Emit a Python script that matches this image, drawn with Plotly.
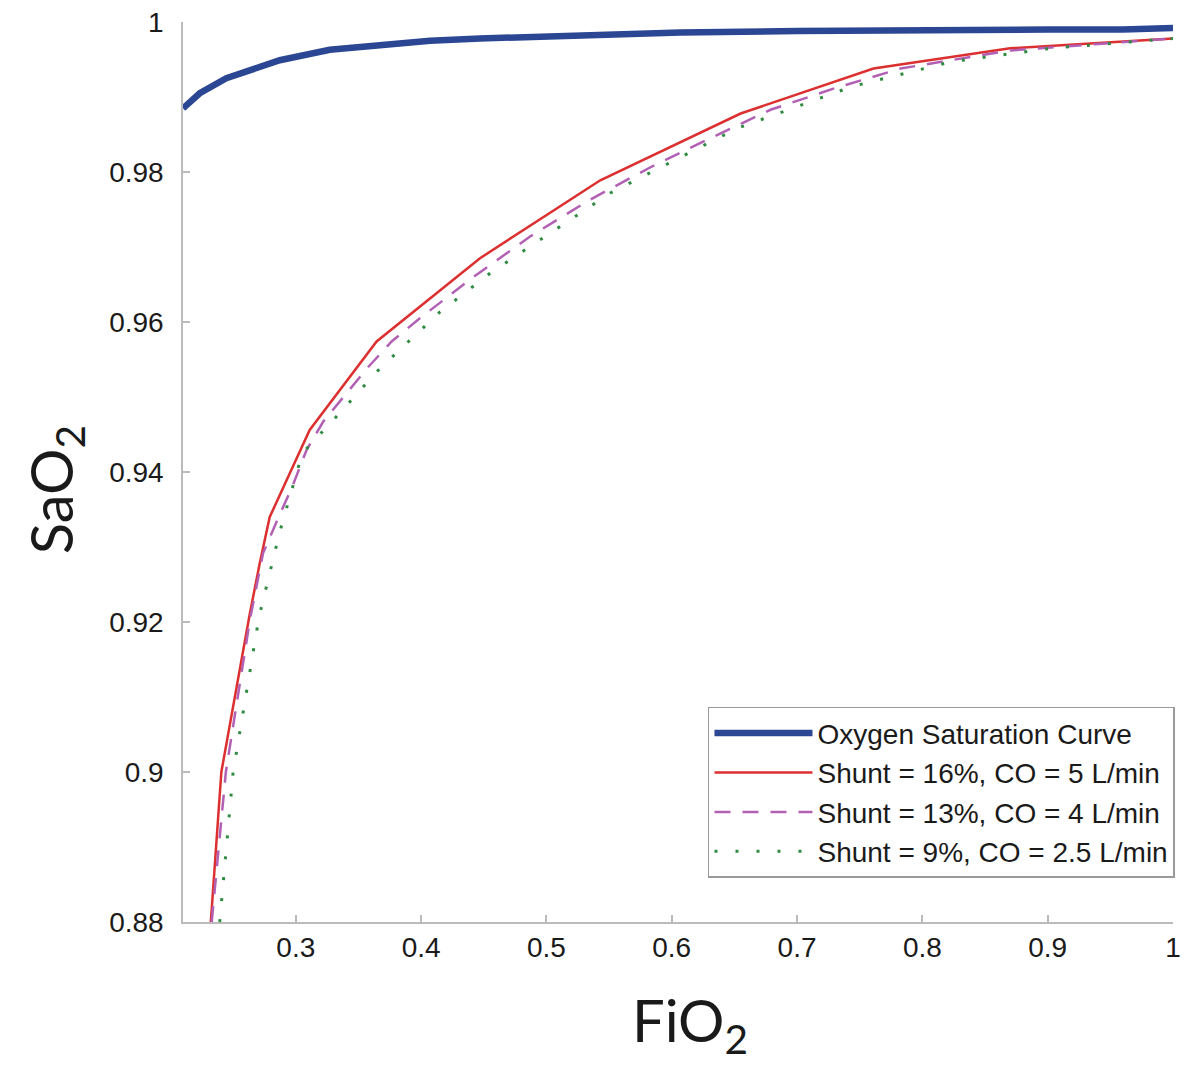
import plotly.graph_objects as go

# ---- data ----
blue_x = [0.21, 0.2234, 0.2446, 0.2872, 0.3271, 0.3671, 0.4071, 0.447, 0.5003, 0.5535, 0.6068, 0.70, 0.80, 0.90, 0.96, 1.0]
blue_y = [0.9885, 0.9905, 0.9925, 0.9949, 0.9963, 0.9969, 0.9975, 0.9978, 0.9981, 0.9984, 0.9986, 0.9988, 0.9990, 0.9990, 0.9990, 0.9992]

red_x = [0.2322, 0.2406, 0.2632, 0.2712, 0.2792, 0.3111, 0.3645, 0.447, 0.543, 0.655, 0.761, 0.870, 1.0]
red_y = [0.880, 0.900, 0.921, 0.9278, 0.9340, 0.9456, 0.9574, 0.9685, 0.9789, 0.9878, 0.9938, 0.9965, 0.9978]

mag_x = [0.2329, 0.2442, 0.2634, 0.2739, 0.2858, 0.2978, 0.3085, 0.3218, 0.3405, 0.3578, 0.3765, 0.399,
         0.4417, 0.487, 0.5336, 0.5815, 0.6308, 0.6788, 0.7307, 0.7827, 0.87, 1.0]
mag_y = [0.880, 0.900, 0.9203, 0.9292, 0.9338, 0.9383, 0.9429, 0.9467, 0.9505, 0.9540, 0.9574, 0.9605,
         0.9660, 0.9714, 0.9762, 0.9805, 0.9845, 0.9883, 0.9912, 0.9938, 0.9962, 0.9978]

grn_x = [0.2393, 0.2500, 0.2707, 0.2872, 0.3052, 0.3325, 0.3671, 0.4148, 0.455, 0.551, 0.652, 0.744, 0.823, 0.903, 1.0]
grn_y = [0.880, 0.900, 0.9207, 0.9320, 0.9425, 0.9474, 0.9538, 0.9613, 0.9665, 0.9772, 0.9858, 0.9914, 0.9947, 0.9965, 0.9978]

names = ["Oxygen Saturation Curve",
         "Shunt = 16%, CO = 5 L/min",
         "Shunt = 13%, CO = 4 L/min",
         "Shunt = 9%, CO = 2.5 L/min"]

x_ticks = [0.3, 0.4, 0.5, 0.6, 0.7, 0.8, 0.9, 1.0]
x_ticktext = ["0.3", "0.4", "0.5", "0.6", "0.7", "0.8", "0.9", "1"]
y_ticks = [0.88, 0.90, 0.92, 0.94, 0.96, 0.98, 1.0]
y_ticktext = ["0.88", "0.9", "0.92", "0.94", "0.96", "0.98", "1"]

x_title = "FiO<sub>2</sub>"
y_title = "SaO<sub>2</sub>"

fig = go.Figure()
fig.add_trace(go.Scatter(x=blue_x, y=blue_y, mode="lines", name=names[0],
                         line=dict(color="#2B4693", width=6.5)))
fig.add_trace(go.Scatter(x=red_x, y=red_y, mode="lines", name=names[1],
                         line=dict(color="#DC2F2F", width=2.5)))
fig.add_trace(go.Scatter(x=mag_x, y=mag_y, mode="lines", name=names[2],
                         line=dict(color="#B260B4", width=2.5, dash="16px,12px")))
fig.add_trace(go.Scatter(x=grn_x, y=grn_y, mode="lines", name=names[3],
                         line=dict(color="#2E8B40", width=3, dash="3px,18px")))

axis_common = dict(
    showgrid=False, zeroline=False, showline=True, linecolor="#BBBBBB", linewidth=1.5,
    ticks="inside", ticklen=7, tickcolor="#BBBBBB", tickwidth=1.5, mirror=False,
    automargin=False, ticklabeloverflow="allow",
    tickfont=dict(family="Liberation Sans, Arial", size=28, color="#1a1a1a"),
)

title_font = dict(family="Lato, DejaVu Sans", size=58, color="#1a1a1a")

fig.update_layout(
    width=1200, height=1082,
    margin=dict(l=175, r=35, t=14, b=168),
    paper_bgcolor="white", plot_bgcolor="white",
    xaxis=dict(range=[0.21, 1.0], tickvals=x_ticks, ticktext=x_ticktext, **axis_common),
    yaxis=dict(range=[0.88, 1.0], tickvals=y_ticks, ticktext=y_ticktext,
               ticklabelstandoff=12, **axis_common),
    legend=dict(x=1.002, y=0.049, xanchor="right", yanchor="bottom",
                bgcolor="white", bordercolor="#9a9a9a", borderwidth=1.5,
                font=dict(family="Liberation Sans, Arial", size=28, color="#1a1a1a"),
                itemwidth=98, tracegroupgap=0),
    showlegend=True,
    annotations=[
        dict(text=x_title, xref="paper", yref="paper", x=0.512, y=-0.113,
             xanchor="center", yanchor="middle", showarrow=False, font=title_font),
        dict(text=y_title, xref="paper", yref="paper", x=-0.129, y=0.48,
             xanchor="center", yanchor="middle", textangle=-90, showarrow=False, font=title_font),
    ],
)

fig.write_html("out.html")
